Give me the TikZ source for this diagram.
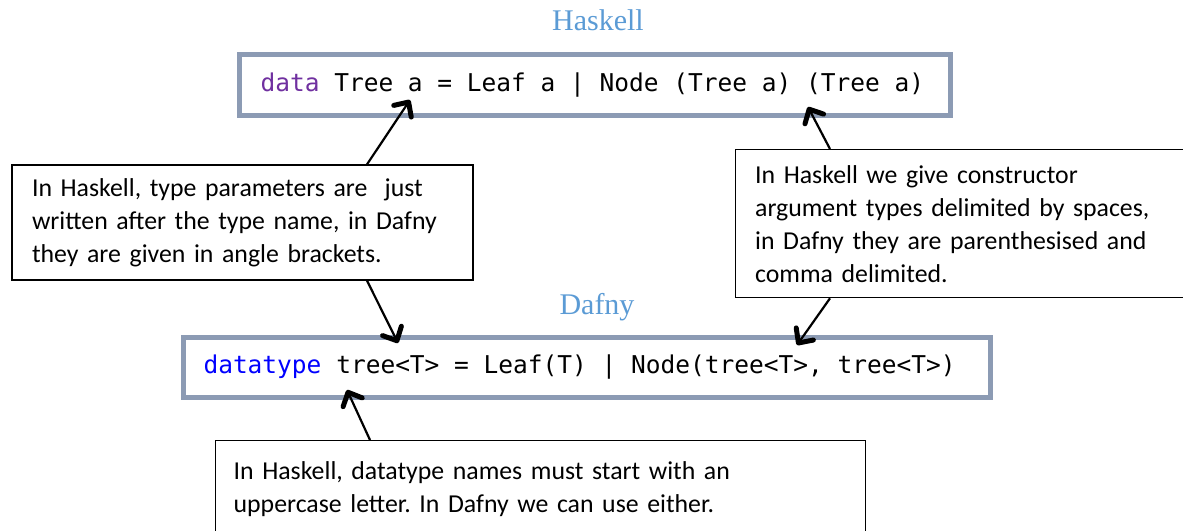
\documentclass[tikz,border=0pt]{standalone}
\usepackage{fontspec}
\setmainfont{Carlito}
\newfontfamily\codefont{DejaVu Sans Mono}
\newfontfamily\titlefont{Liberation Serif}
\usetikzlibrary{arrows.meta}
\definecolor{frame}{RGB}{140,155,180}
\definecolor{titleblue}{RGB}{91,155,213}
\definecolor{kwpurple}{RGB}{112,48,160}
\definecolor{kwblue}{RGB}{0,0,255}
\frenchspacing
% a space in code, as wide as one character cell
\newcommand\csp{\hphantom{a}}

\begin{document}
\begin{tikzpicture}[x=1pt,y=-1pt,
  codebox/.style={draw=frame, line width=5pt, fill=white, inner ysep=0pt,
    align=left, font=\codefont\fontsize{24.5}{28}\selectfont},
  callout/.style={draw=black, line width=1.3pt, fill=white, align=left,
    inner ysep=0pt, inner xsep=20pt, font=\fontsize{25.8}{33}\selectfont},
  heading/.style={text=titleblue, inner sep=0pt,
    font=\titlefont\fontsize{30}{34}\selectfont},
  pointer/.style={line width=2.2pt,
    -{Straight Barb[length=11pt,width=21pt,line width=5pt,round]}}
]
\useasboundingbox (0,0) rectangle (1183,530);
\clip (0,0) rectangle (1183,530);

% language headings
\node[heading] (hhead) at (598,20) {Haskell};
\node[heading] (dhead) at (597,307) {Dafny};

% the two declarations
\node[codebox, inner xsep=21pt, text width=669pt, minimum height=61pt]
  (hcode) at (595,85)
  {\textcolor{kwpurple}{data}\csp Tree\csp a\csp=\csp Leaf\csp a\csp|\csp
   Node\csp(Tree\csp a)\csp(Tree\csp a)};
\node[codebox, inner xsep=20pt, text width=767pt, minimum height=60pt]
  (dcode) at (587,367.5)
  {\textcolor{kwblue}{datatype}\csp tree<T>\csp=\csp Leaf(T)\csp|\csp
   Node(tree<T>,\csp tree<T>)};

% explanatory notes
\node[callout, text width=421pt, minimum height=115pt] (lnote) at (242.5,222.5)
  {In Haskell, type parameters are\ \ just\\
   written after the type name, in Dafny\\
   they are given in angle brackets.};
\node[callout, anchor=north west, text width=430pt, minimum height=148pt]
  (rnote) at (734.5,149)
  {In Haskell we give constructor\\
   argument types delimited by spaces,\\
   in Dafny they are parenthesised and\\
   comma delimited.};
\node[callout, anchor=north west, inner xsep=18pt, text width=614pt,
  minimum height=96pt] (bnote) at (215,440)
  {In Haskell, datatype names must start with an\\
   uppercase letter. In Dafny we can use either.};

% pointer targets inside the declarations
\coordinate (hparam) at (410,100);
\coordinate (harg) at (808,107);
\coordinate (dparam) at (398,343);
\coordinate (darg) at (797,345);
\coordinate (dname) at (347,390);

% pointers
\draw[pointer] (367,0 |- lnote.north) -- (hparam);
\draw[pointer] (367,0 |- lnote.south) -- (dparam);
\draw[pointer] (830,0 |- rnote.north) -- (harg);
\draw[pointer] (830,0 |- rnote.south) -- (darg);
\draw[pointer] (370,0 |- bnote.north) -- (dname);
\end{tikzpicture}
\end{document}
